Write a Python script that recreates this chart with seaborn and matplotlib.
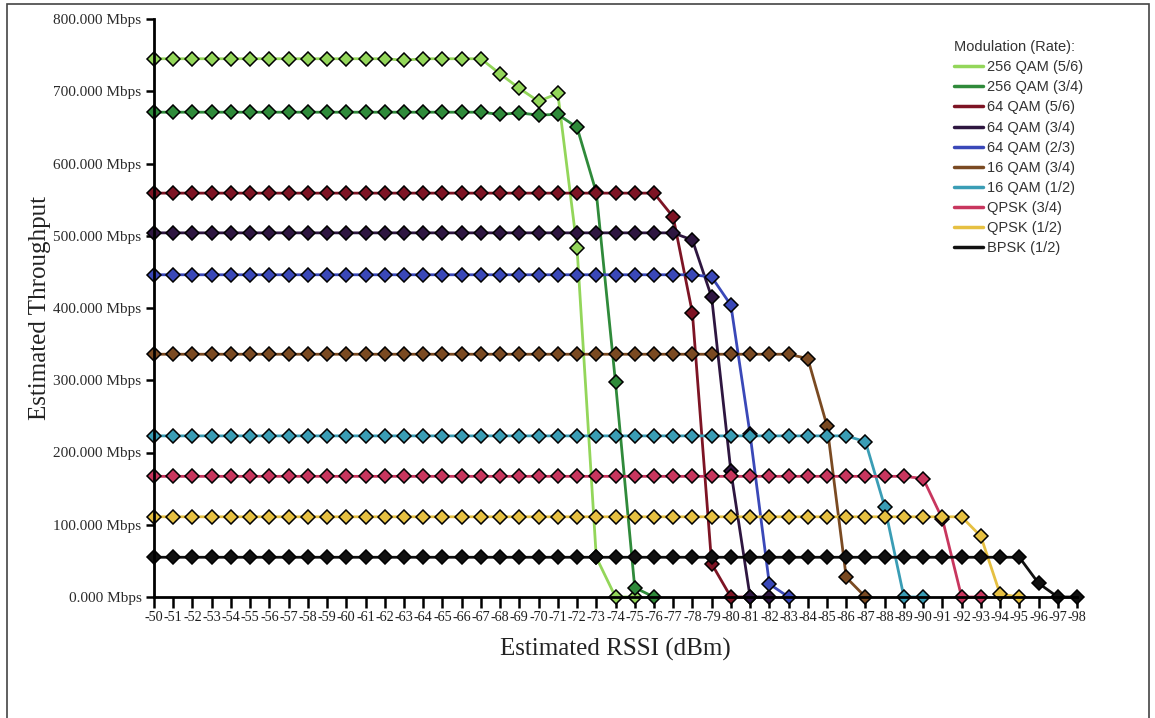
import matplotlib
matplotlib.use("Agg")
import matplotlib.pyplot as plt
from matplotlib.lines import Line2D
from matplotlib.patches import Rectangle
import seaborn as sns
import pandas as pd

# Estimated RSSI steps (dBm), strongest signal first
rssi = list(range(-50, -99, -1))

# Estimated throughput (Mbps) for each modulation, starting at -50 dBm
qam256_56 = [745, 745, 745, 745, 745, 745, 745, 745, 745, 745, 745, 745, 745, 743,
             745, 745, 745, 745, 724, 704, 686, 697, 483, 55, 0, 0]
qam256_34 = [671, 671, 671, 671, 671, 671, 671, 671, 671, 671, 671, 671, 671, 671,
             671, 671, 671, 671, 668, 670, 667, 668, 650, 560, 297, 13, 0]
qam64_56 = [559, 559, 559, 559, 559, 559, 559, 559, 559, 559, 559, 559, 559, 559,
            559, 559, 559, 559, 559, 559, 559, 559, 559, 559, 559, 559, 559,
            526, 393, 46, 0, 0]
qam64_34 = [504, 504, 504, 504, 504, 504, 504, 504, 504, 504, 504, 504, 504, 504,
            504, 504, 504, 504, 504, 504, 504, 504, 504, 504, 504, 504, 504, 504,
            494, 415, 174, 0, 0]
qam64_23 = [446, 446, 446, 446, 446, 446, 446, 446, 446, 446, 446, 446, 446, 446,
            446, 446, 446, 446, 446, 446, 446, 446, 446, 446, 446, 446, 446, 446,
            446, 443, 404, 225, 18, 0]
qam16_34 = [336, 336, 336, 336, 336, 336, 336, 336, 336, 336, 336, 336, 336, 336,
            336, 336, 336, 336, 336, 336, 336, 336, 336, 336, 336, 336, 336, 336,
            336, 336, 336, 336, 336, 336, 330, 237, 27, 0]
qam16_12 = [223, 223, 223, 223, 223, 223, 223, 223, 223, 223, 223, 223, 223, 223,
            223, 223, 223, 223, 223, 223, 223, 223, 223, 223, 223, 223, 223, 223,
            223, 223, 223, 223, 223, 223, 223, 223, 223, 215, 125, 0, 0]
qpsk_34 = [167, 167, 167, 167, 167, 167, 167, 167, 167, 167, 167, 167, 167, 167,
           167, 167, 167, 167, 167, 167, 167, 167, 167, 167, 167, 167, 167, 167,
           167, 167, 167, 167, 167, 167, 167, 167, 167, 167, 167, 167, 164,
           108, 0, 0]
qpsk_12 = [111, 111, 111, 111, 111, 111, 111, 111, 111, 111, 111, 111, 111, 111,
           111, 111, 111, 111, 111, 111, 111, 111, 111, 111, 111, 111, 111, 111,
           111, 111, 111, 111, 111, 111, 111, 111, 111, 111, 111, 111, 111, 111,
           111, 84, 4, 0]
bpsk_12 = [55, 55, 55, 55, 55, 55, 55, 55, 55, 55, 55, 55, 55, 55,
           55, 55, 55, 55, 55, 55, 55, 55, 55, 55, 55, 55, 55, 55,
           55, 55, 55, 55, 55, 55, 55, 55, 55, 55, 55, 55, 55, 55,
           55, 55, 55, 55, 19, 0, 0]

labels = ["256 QAM (5/6)", "256 QAM (3/4)", "64 QAM (5/6)", "64 QAM (3/4)",
          "64 QAM (2/3)", "16 QAM (3/4)", "16 QAM (1/2)", "QPSK (3/4)",
          "QPSK (1/2)", "BPSK (1/2)"]
series = [qam256_56, qam256_34, qam64_56, qam64_34, qam64_23,
          qam16_34, qam16_12, qpsk_34, qpsk_12, bpsk_12]
colors = ["#93d65a", "#2f8a3a", "#7d1424", "#2e1640", "#3a48b8",
          "#7a4a22", "#3a9db5", "#c8365e", "#e6c042", "#111111"]
y_ticks = [0, 100, 200, 300, 400, 500, 600, 700, 800]

rows = []
for name, vals in zip(labels, series):
    for x, v in zip(rssi, vals):
        rows.append({"RSSI": x, "Throughput": v, "Modulation": name})
df = pd.DataFrame(rows)

sns.set_theme(style="white")
serif = ["Liberation Serif", "DejaVu Serif"]
sans = ["Liberation Sans", "DejaVu Sans"]
plt.rcParams["font.family"] = serif

fig = plt.figure(figsize=(11.55, 7.18), dpi=100)
ax = fig.add_axes([154 / 1155, 1 - 597 / 718, (1077 - 154) / 1155, (597 - 19) / 718])

palette = dict(zip(labels, colors))
sns.lineplot(data=df, x="RSSI", y="Throughput", hue="Modulation",
             hue_order=labels, palette=palette, estimator=None, sort=False,
             marker="D", markersize=7.3, markeredgecolor="black",
             markeredgewidth=1.1, linewidth=2, legend=False, ax=ax,
             clip_on=False)

ax.set_xlim(-50, -98)
ax.set_ylim(0, 800)
ax.set_xticks(rssi)
ax.set_xticklabels([str(v) for v in rssi], fontsize=10.2, color="#1e1e1e",
                   family=serif)
ax.set_yticks(y_ticks)
ax.set_yticklabels([f"{v:.3f} Mbps" for v in y_ticks], fontsize=11,
                   color="#2a2a2a", family=serif)
ax.tick_params(axis="x", direction="out", length=8, width=1.8, color="black",
               pad=2, bottom=True)
ax.tick_params(axis="y", direction="out", length=6, width=1.8, color="black",
               pad=3, left=True)

for side in ["top", "right"]:
    ax.spines[side].set_visible(False)
for side in ["left", "bottom"]:
    ax.spines[side].set_color("black")
    ax.spines[side].set_linewidth(2)

ax.set_xlabel("Estimated RSSI (dBm)", fontsize=18, color="#222222",
              family=serif, labelpad=10)
ax.set_ylabel("Estimated Throughput", fontsize=18, color="#222222",
              family=serif, labelpad=2)

handles = [Line2D([0], [0], color=c, linewidth=2.5) for c in colors]
leg = fig.legend(handles, labels, title="Modulation (Rate):",
                 loc="upper left", bbox_to_anchor=(941 / 1155, 1 - 27 / 718),
                 frameon=False, handlelength=2.0, handletextpad=0.25,
                 labelspacing=0.42, alignment="left",
                 prop={"family": sans, "size": 10.5})
leg.get_title().set_fontfamily(sans)
leg.get_title().set_fontsize(10.5)
leg.get_title().set_color("#333333")
for t in leg.get_texts():
    t.set_color("#333333")

# Thin frame around the whole figure
fig.patches.append(Rectangle((7 / 1155, -0.01), (1149 - 7) / 1155, 1 - 4 / 718 + 0.01,
                             transform=fig.transFigure, fill=False,
                             edgecolor="#444444", linewidth=1.2))

fig.savefig("out.png", dpi=100)
